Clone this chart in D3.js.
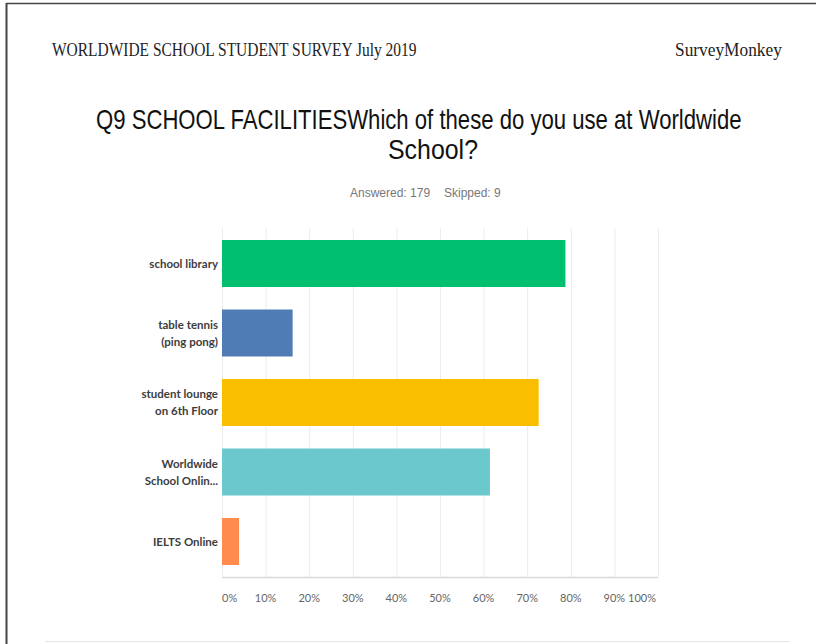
<!DOCTYPE html>
<html><head><meta charset="utf-8">
<script src="https://cdn.jsdelivr.net/npm/d3@7"></script>
<style>body{margin:0;background:#fff}svg{display:block}</style>
</head><body>
<script>
const categories = [["school library"],["table tennis","(ping pong)"],["student lounge","on 6th Floor"],["Worldwide","School Onlin..."],["IELTS Online"]];
const values = [78.77, 16.20, 72.63, 61.45, 3.91];
const colors = ["#00bf6f","#507cb6","#f9be00","#6bc8cd","#ff8b4f"];
const ticks = [0,10,20,30,40,50,60,70,80,90,100];

const W=820,H=644;
const svg=d3.select("body").append("svg").attr("width",W).attr("height",H);
// frame
svg.append("line").attr("x1",6.5).attr("x2",6.5).attr("y1",3).attr("y2",H).attr("stroke","#444").attr("stroke-width",2);
svg.append("line").attr("x1",6).attr("x2",W-4).attr("y1",3.5).attr("y2",3.5).attr("stroke","#444").attr("stroke-width",1.5);
svg.append("line").attr("x1",45).attr("x2",790).attr("y1",641.5).attr("y2",641.5).attr("stroke","#e6e6e6").attr("stroke-width",1);

// text squeezed horizontally to a target width (the reference is a compressed scan)
function fitText(str, x0, yb, width, family, size, fill){
  const g=svg.append("g");
  const t=g.append("text").attr("x",0).attr("y",0).attr("font-family",family).attr("font-size",size).attr("fill",fill).text(str);
  const w=t.node().getComputedTextLength();
  g.attr("transform",`translate(${x0},${yb}) scale(${width/w},1)`);
}
fitText("WORLDWIDE SCHOOL STUDENT SURVEY July 2019",52,56,365,"Liberation Serif",18,"#222");
fitText("SurveyMonkey",675,56,107,"Liberation Serif",18,"#222");
fitText("Q9 SCHOOL FACILITIESWhich of these do you use at Worldwide",96,129,646,"Liberation Sans",27,"#111");
fitText("School?",388,159,90,"Liberation Sans",27,"#111");

svg.append("text").attr("x",350).attr("y",197).attr("font-family","Liberation Sans").attr("font-size",12).attr("fill","#777").text("Answered: 179");
svg.append("text").attr("x",444).attr("y",197).attr("font-family","Liberation Sans").attr("font-size",12).attr("fill","#777").text("Skipped: 9");

const x=d3.scaleLinear().domain([0,100]).range([222,658]);
const y=d3.scaleBand().domain(d3.range(values.length)).range([228.75,576.25]).paddingInner(22.5/69.5).paddingOuter(11.25/69.5);

// gridlines
svg.append("g").selectAll("line").data(ticks).join("line")
  .attr("x1",d=>x(d)+0.5).attr("x2",d=>x(d)+0.5).attr("y1",228).attr("y2",577)
  .attr("stroke","#ececec").attr("stroke-width",1);
svg.append("line").attr("x1",222).attr("x2",658).attr("y1",577.5).attr("y2",577.5).attr("stroke","#d9d9d9").attr("stroke-width",1.5);

svg.append("g").selectAll("rect").data(values).join("rect")
  .attr("x",x(0)).attr("y",(d,i)=>y(i)).attr("width",d=>x(d)-x(0)).attr("height",y.bandwidth())
  .attr("fill",(d,i)=>colors[i]);

// category labels
const lab=svg.append("g").selectAll("text").data(categories).join("text")
  .attr("text-anchor","end").attr("font-family","Lato").attr("font-weight","bold").attr("font-size",11.5).attr("fill","#3d3d3d");
lab.each(function(d,i){
  const t=d3.select(this), cy=y(i)+y.bandwidth()/2, n=d.length;
  d.forEach((s,j)=>t.append("tspan").attr("x",218).attr("y",cy+4+(j-(n-1)/2)*17).text(s));
});

// tick labels
svg.append("g").selectAll("text").data(ticks).join("text")
  .attr("x",d=>d===0?x(d):d===100?x(d)-2:x(d))
  .attr("text-anchor",d=>d===0?"start":d===100?"end":"middle")
  .attr("y",602).attr("font-family","Lato").attr("font-size",11).attr("fill","#666")
  .text(d=>d+"%");
</script>
</body></html>
